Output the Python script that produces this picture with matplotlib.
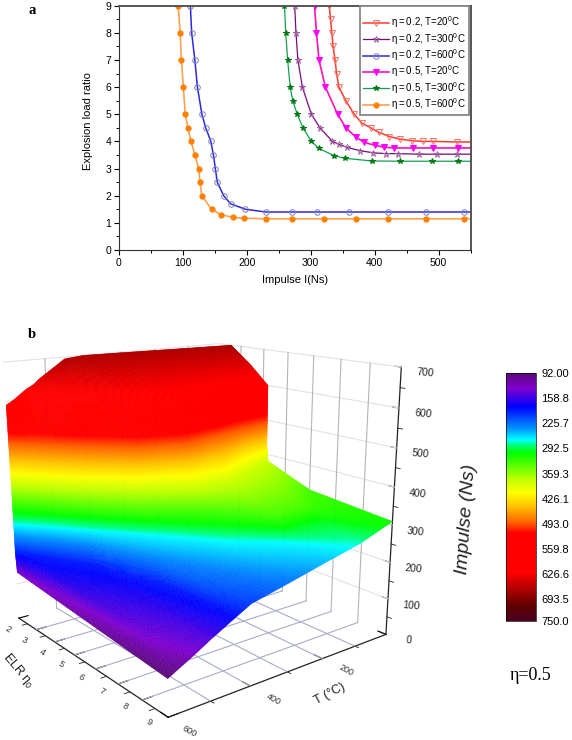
import numpy as np
import matplotlib
matplotlib.use('Agg')
import matplotlib.pyplot as plt
from matplotlib.cm import ScalarMappable
from matplotlib.colors import LinearSegmentedColormap, Normalize
from mpl_toolkits.mplot3d import proj3d

W, H = 572, 740
plt.rcParams['font.family'] = ['Liberation Sans', 'DejaVu Sans']
plt.rcParams['mathtext.fontset'] = 'custom'
plt.rcParams['mathtext.rm'] = 'Liberation Serif'
plt.rcParams['mathtext.default'] = 'regular'

# panel a, impulse against explosion load ratio
i_02_20 = [329, 331, 333, 335, 338, 340.5, 344, 355, 368, 380, 394, 406, 423, 440, 458, 475, 491, 529, 590]
r_02_20 = [9, 8.5, 8, 7.5, 7, 6.5, 6, 5.5, 5, 4.67, 4.5, 4.34, 4.18, 4.08, 4.03, 4.0, 4.0, 3.98, 3.98]
i_02_300 = [275, 277, 280, 287, 301, 314.5, 334, 344, 357, 377, 398, 418, 437, 469, 498, 528, 590]
r_02_300 = [9, 8, 7, 6, 5, 4.5, 4, 3.9, 3.78, 3.66, 3.58, 3.55, 3.55, 3.53, 3.53, 3.53, 3.53]
i_02_600 = [112, 114, 119, 123, 130, 136, 144, 148, 151, 154, 164, 175, 198, 230, 270, 310, 360, 420, 480, 540, 590]
r_02_600 = [9, 8, 7, 6, 5, 4.5, 4, 3.5, 3, 2.5, 2, 1.7, 1.5, 1.4, 1.4, 1.4, 1.4, 1.4, 1.4, 1.4, 1.4]
i_05_20 = [306, 309, 313, 323, 342, 355, 371, 383, 400, 414, 430, 460, 491, 530, 590]
r_05_20 = [9, 8, 7, 6, 5, 4.5, 4.15, 3.97, 3.86, 3.79, 3.76, 3.76, 3.76, 3.76, 3.76]
i_05_300 = [259, 261, 264, 268, 272, 279, 288, 301, 313, 336, 353, 395, 440, 490, 530, 590]
r_05_300 = [9, 8, 7, 6, 5.5, 5, 4.5, 4, 3.74, 3.48, 3.38, 3.28, 3.27, 3.27, 3.27, 3.27]
i_05_600 = [93, 96, 98, 101, 104, 108, 113, 119, 125, 127, 130, 145, 160, 179, 195, 230, 270, 320, 370, 420, 480, 540, 590]
r_05_600 = [9, 8, 7, 6, 5, 4.5, 4, 3.5, 3, 2.5, 2, 1.5, 1.3, 1.2, 1.17, 1.15, 1.15, 1.15, 1.15, 1.15, 1.15, 1.15, 1.15]

# panel b, load ratio reached at each impulse level, one row per temperature
temps = [600, 575, 550, 500, 450, 400, 300, 200, 100, 0]
top_edge = [590, 607, 625, 660, 695, 700, 700, 700, 700, 700]
bottom_edge = [92, 106, 120, 150, 178, 205, 228, 252, 275, 310]
impulse_levels = [90, 135, 190, 230, 270, 300, 330, 380, 426, 500, 600, 650, 700]
elr_t600 = [9.33, 2.07, 2.02, 2.02, 2.02, 2.02, 2.02, 2.02, 2.01, 2.008, 1.999, 1.86, 1.75]
elr_t575 = [9.5, 7.6, 2.6, 2.5, 2.4, 2.4, 2.39, 2.36, 2.35, 2.33, 2.05, 1.85, 1.78]
elr_t550 = [10.1, 8.6, 3.19, 2.98, 2.77, 2.77, 2.76, 2.7, 2.7, 2.66, 2.1, 1.84, 1.8]
elr_t500 = [13.0, 10.76, 4.31, 3.89, 3.58, 3.54, 3.52, 3.44, 3.40, 3.33, 3.26, 2.0, 1.86]
elr_t450 = [20.0, 17.0, 6.75, 5.4, 4.34, 4.27, 4.23, 4.05, 3.96, 3.92, 3.82, 2.2, 1.8]
elr_t400 = [15.0, 12.5, 10.4, 6.9, 5.1, 5.0, 4.94, 4.66, 4.52, 4.52, 4.38, 3.05, 2.01]
elr_t300 = [15.0, 13.0, 11.0, 8.9, 6.7, 6.34, 5.85, 5.5, 5.08, 4.94, 4.8, 3.4, 2.14]
elr_t200 = [17.0, 15.0, 13.0, 10.5, 7.8, 7.6, 7.25, 5.5, 5.08, 4.73, 4.52, 3.33, 2.28]
elr_t100 = [19.0, 17.0, 15.0, 13.2, 9.3, 7.6, 7.18, 4.94, 4.5, 4.4, 4.3, 3.4, 2.42]
elr_t0 = [21.0, 19.0, 17.0, 16.0, 12.5, 10.4, 6.0, 4.27, 4.2, 4.2, 4.2, 3.45, 2.55]

cmap_values = [92, 132, 181, 238, 270, 282, 304, 375, 410, 447, 490, 517, 622, 667, 712, 750]
cmap_colors = ['#5a0a78', '#8000d0', '#0000ff', '#0090ff', '#00ffff', '#00ff80', '#00ff00', '#c0ff00',
               '#ffff00', '#ffc000', '#ff6000', '#ff0000', '#ff0000', '#b00000', '#600000', '#4a0020']
surface_colors = cmap_colors[:-3] + ['#d00000', '#a00000', '#800000']
cbar_ticks = [92.0, 158.8, 225.7, 292.5, 359.3, 426.1, 493.0, 559.8, 626.6, 693.5, 750.0]
cbar_labels = ['92.00', '158.8', '225.7', '292.5', '359.3', '426.1', '493.0', '559.8', '626.6', '693.5', '750.0']


def rect(left, top, right, bottom):
    return [left / W, 1 - bottom / H, (right - left) / W, (bottom - top) / H]


def label_text(eta, temp):
    return '$\u03b7{=}%s{,}$ T=%s$^0$C' % (eta, temp)


def top_panel(fig):
    ax = fig.add_axes(rect(118.7, 5.7, 470.7, 250))
    ser = [
        (i_02_20, r_02_20, '#ff3a30', 'v', 'none', '#ff7060', 1.1, 4.4, label_text('0.2', '20')),
        (i_02_300, r_02_300, '#7a0a7a', '*', 'none', '#a060a0', 0.9, 5.0, label_text('0.2', '300')),
        (i_02_600, r_02_600, '#2a2ad8', 'o', 'none', '#8080c0', 1.1, 4.0, label_text('0.2', '600')),
        (i_05_20, r_05_20, '#ff10b0', 'v', '#ff00ff', '#ff00ff', 1.2, 4.2, label_text('0.5', '20')),
        (i_05_300, r_05_300, '#10a050', '*', '#007a10', '#007a10', 0.9, 4.4, label_text('0.5', '300')),
        (i_05_600, r_05_600, '#ffa050', 'o', '#ff8000', '#ff8000', 1.2, 3.8, label_text('0.5', '600')),
    ]
    for xs, ys, col, mk, mfc, mec, lw, ms, lab in ser:
        ax.plot(xs, ys, color=col, lw=lw, marker=mk, mfc=mfc, mec=mec, mew=0.7, ms=ms, label=lab)
    ax.set_xlim(0, 550)
    ax.set_ylim(0, 9)
    ax.set_xticks(range(0, 501, 100))
    ax.set_xticks(range(50, 551, 100), minor=True)
    ax.set_yticks(range(0, 10))
    ax.set_yticks(np.arange(0.5, 9, 1), minor=True)
    ax.tick_params(labelsize=7.5, length=3.5, width=0.8, pad=2)
    ax.tick_params(which='minor', length=2, width=0.7)
    for s in ['top', 'right']:
        ax.spines[s].set_color('#555555')
        ax.spines[s].set_linewidth(1.4)
    ax.spines['left'].set_color('#333333')
    ax.spines['bottom'].set_color('#333333')
    fig.text(295 / W, 1 - 280 / H, 'Impulse I(Ns)', fontsize=8, ha='center', va='center')
    fig.text(88 / W, 1 - 121 / H, 'Explosion load ratio', fontsize=8, rotation=90, ha='center', va='center')
    fig.text(32 / W, 1 - 10 / H, 'a', fontsize=10.5, weight='bold', family='Liberation Serif', ha='center', va='center')
    leg = ax.legend(loc='upper right', bbox_to_anchor=((469 - 118.7) / 352, (250 - 6) / 244.3), fontsize=7.0,
                    title=' ', title_fontsize=3.5, fancybox=False, edgecolor='#888888', framealpha=1, borderpad=0.3,
                    labelspacing=0.06, handlelength=2.6, handletextpad=0.3, borderaxespad=0.0)
    leg.get_frame().set_linewidth(1.3)
    return ax


def surface_mesh():
    rows = np.array([elr_t600, elr_t575, elr_t550, elr_t500, elr_t450, elr_t400, elr_t300, elr_t200, elr_t100, elr_t0], float)
    t_fine = np.linspace(600, 0, 240)
    E, T, Z = [], [], []
    for t in t_fine:
        e_row = np.array([np.interp(t, temps[::-1], rows[::-1, j]) for j in range(len(impulse_levels))])
        # keep the part of the sheet that lies inside the box
        z_lo = np.interp(t, temps[::-1], bottom_edge[::-1])
        z_hi = np.interp(t, temps[::-1], top_edge[::-1])
        z = np.linspace(z_lo, z_hi, 300)
        e = np.interp(z, impulse_levels, e_row)
        # the lower rim always sits on ELR = 9
        if e[0] < 9:
            e = e + (9 - e[0]) * np.clip(1 - (z - z_lo) / 40, 0, 1)
        E.append(np.clip(e, 2, 9))
        T.append(np.full_like(z, t))
        Z.append(z)
    return np.array(E), np.array(T), np.array(Z)


def floor_label(ax, x, y, text, rotation):
    px, py, _ = proj3d.proj_transform(x, y, 0, ax.get_proj())
    ax.text2D(px, py, text, transform=ax.transData, fontsize=6.5, rotation=rotation,
              ha='center', va='center', color='#333333', zorder=4)


def bottom_panel(fig, cmap, norm):
    side, cx, cy = 456.44, 191.79, 506.71
    ax = fig.add_axes(rect(cx - side / 2, cy - side / 2, cx + side / 2, cy + side / 2), projection='3d')
    ax.patch.set_alpha(0)
    ax.computed_zorder = False
    ax.set_xlim(2, 9)
    ax.set_ylim(600, 0)
    ax.set_zlim(0, 700)
    ax.view_init(15.665, -37.874, 0.138)
    ax.set_proj_type('persp', focal_length=0.371)
    ax.set_box_aspect((0.993, 1.010, 1))
    ax.grid(False)

    # wall and floor grids
    grid_wall = '#e2e2e2'
    grid_vert = '#b4b4b8'
    grid_floor = '#a8acc8'
    for z in range(100, 701, 100):
        ax.plot([2, 9], [0, 0], [z, z], color=grid_wall, lw=0.8, zorder=1)
        ax.plot([2, 2], [600, 0], [z, z], color=grid_wall, lw=0.8, zorder=1)
    for e in range(3, 9):
        ax.plot([e, e], [0, 0], [0, 700], color=grid_vert, lw=0.8, zorder=1)
        ax.plot([e, e], [600, 0], [0, 0], color=grid_floor, lw=0.8, zorder=1)
    for t in [100, 200, 300, 400, 500]:
        ax.plot([2, 2], [t, t], [0, 700], color=grid_vert, lw=0.8, zorder=1)
        ax.plot([2, 9], [t, t], [0, 0], color=grid_floor, lw=0.8, zorder=1)

    E, T, Z = surface_mesh()
    surf = ax.plot_surface(E, T, Z, cmap=cmap, norm=norm, rstride=1, cstride=1, linewidth=0.3,
                           antialiased=True, shade=False, zorder=2)
    surf.set_edgecolor('face')

    for a in (ax.xaxis, ax.yaxis, ax.zaxis):
        a.set_pane_color((1, 1, 1, 0))
        a.pane.set_edgecolor('#999999')
        a.pane.set_linewidth(0.9)
        a.line.set_color('#222222')
        a.line.set_linewidth(0.9)
        a._axinfo['tick'].update(inward_factor=0.0, outward_factor=0.5)
        a._axinfo['tick']['linewidth'] = {True: 0.8, False: 0.6}
        a._axinfo['tick']['color'] = '#222222'
    ax.zaxis._axinfo['tick']['outward_factor'] = 0.36

    ax.set_xticks(range(2, 10))
    ax.set_yticks([0, 200, 400, 600])
    ax.set_zticks(range(0, 701, 100))
    ax.tick_params(axis='x', labelbottom=False, labelcolor=(1, 1, 1, 0), labelsize=1)
    ax.tick_params(axis='y', labelbottom=False, labelcolor=(1, 1, 1, 0), labelsize=1)
    ax.tick_params(axis='z', labelsize=7.5, labelrotation=-5, pad=2, colors='#222222')

    # tick labels on the floor
    for e in range(2, 10):
        floor_label(ax, e + 0.5 - 0.08 * (e - 2), 650 - 1.6 * (e - 2), str(e), -33)
    for t in [200, 400, 600]:
        floor_label(ax, 9.8 if t < 600 else 9.75, t, str(t), -28)

    # minor ticks
    for e in np.arange(2.5, 9, 1):
        ax.plot([e, e], [600, 613], [0, 0], color='#222222', lw=0.6, zorder=3)
    for t in [100, 300, 500]:
        ax.plot([9, 9.12], [t, t], [0, 0], color='#222222', lw=0.6, zorder=3)
    for z in range(50, 700, 100):
        ax.plot([9, 9.15], [0, 0], [z, z], color='#222222', lw=0.6, zorder=3)

    fig.text(18 / W, 1 - 671 / H, 'ELR \u03b7$_0$', fontsize=9, rotation=-50, ha='center', va='center', color='#222222')
    fig.text(330 / W, 1 - 694 / H, 'T (\u00b0C)', fontsize=9, rotation=28, ha='center', va='center', color='#222222')
    fig.text(466 / W, 1 - 519 / H, 'Impulse (Ns)', fontsize=14, rotation=86, style='italic', ha='center', va='center', color='#222222')
    fig.text(32 / W, 1 - 335 / H, 'b', fontsize=10.5, weight='bold', family='Liberation Serif', ha='center', va='center')
    return ax


fig = plt.figure(figsize=(W / 100, H / 100), dpi=100)
top_panel(fig)

norm = Normalize(92, 750)
pos = [(v - 92) / 658 for v in cmap_values]
rainbow = LinearSegmentedColormap.from_list('impulse', list(zip(pos, cmap_colors)), N=512)
surface_map = LinearSegmentedColormap.from_list('surface', list(zip(pos, surface_colors)), N=512)
bottom_panel(fig, surface_map, norm)

cax = fig.add_axes(rect(505.7, 373, 535.7, 620.7))
cb = fig.colorbar(ScalarMappable(norm, rainbow), cax=cax)
cax.invert_yaxis()
cb.set_ticks(cbar_ticks, labels=cbar_labels)
cax.tick_params(length=0, labelsize=8, pad=4)
cb.outline.set_linewidth(0.5)

fig.text(531 / W, 1 - 676 / H, '\u03b7=0.5', fontsize=13, family='Liberation Serif', ha='center', va='center')
fig.savefig('out.png', dpi=100)
